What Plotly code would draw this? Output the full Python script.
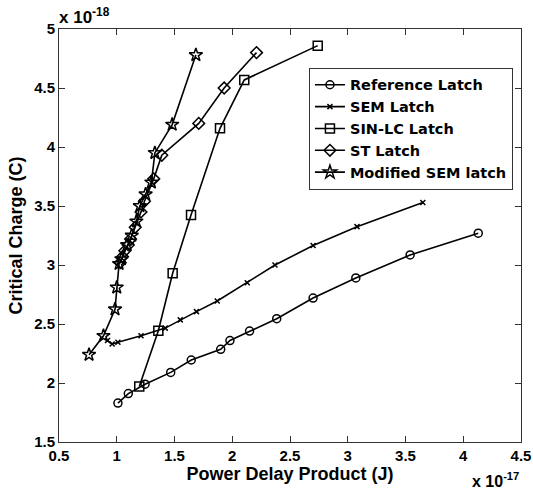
import plotly.graph_objects as go

# Values in units of 1e-17 J (x) and 1e-18 C (y)
ref_x = [1.01, 1.10, 1.245, 1.467, 1.645, 1.90, 1.98, 2.15, 2.385, 2.70, 3.07, 3.54, 4.13]
ref_y = [1.83, 1.91, 1.99, 2.09, 2.195, 2.285, 2.36, 2.44, 2.545, 2.72, 2.89, 3.085, 3.27]

sem_x = [0.92, 0.96, 1.01, 1.21, 1.42, 1.55, 1.69, 1.87, 2.13, 2.37, 2.70, 3.08, 3.65]
sem_y = [2.36, 2.33, 2.345, 2.40, 2.465, 2.535, 2.605, 2.695, 2.85, 3.00, 3.165, 3.325, 3.53]

sin_x = [1.195, 1.36, 1.484, 1.643, 1.894, 2.104, 2.74]
sin_y = [1.97, 2.443, 2.93, 3.424, 4.158, 4.568, 4.859]

st_x = [1.03, 1.05, 1.07, 1.10, 1.12, 1.16, 1.21, 1.24, 1.32, 1.39, 1.71, 1.93, 2.21]
st_y = [3.02, 3.07, 3.12, 3.17, 3.22, 3.32, 3.45, 3.54, 3.73, 3.93, 4.20, 4.50, 4.80]

msem_x = [0.76, 0.885, 0.985, 1.0, 1.02, 1.04, 1.09, 1.13, 1.17, 1.20, 1.25, 1.30, 1.33, 1.48, 1.685]
msem_y = [2.24, 2.40, 2.625, 2.81, 3.01, 3.05, 3.17, 3.25, 3.37, 3.50, 3.60, 3.70, 3.95, 4.19, 4.78]

series = [
    ("Reference Latch", ref_x, ref_y, "circle-open", 8),
    ("SEM Latch", sem_x, sem_y, "x-thin-open", 5),
    ("SIN-LC Latch", sin_x, sin_y, "square-open", 9),
    ("ST Latch", st_x, st_y, "diamond-open", 9),
    ("Modified SEM latch", msem_x, msem_y, "star-open", 10),
]

FONT = "Liberation Sans, Arial, sans-serif"
LEGFONT = "DejaVu Sans, Liberation Sans, sans-serif"

fig = go.Figure()
for name, xs, ys, sym, sz in series:
    fig.add_trace(go.Scatter(
        x=xs, y=ys, name=name, mode="lines+markers",
        line=dict(color="black", width=1.6),
        marker=dict(symbol=sym, size=sz, color="black",
                    line=dict(color="black", width=1.5)),
    ))

axis_common = dict(
    showline=True, linecolor="#333", linewidth=1, mirror="ticks",
    ticks="inside", ticklen=6, tickcolor="#333", showgrid=False, zeroline=False,
    automargin=False,
    tickfont=dict(family=FONT, size=15, color="black", weight="bold"),
)

fig.update_layout(
    width=533, height=492,
    margin=dict(l=59, r=12, t=29, b=50),
    plot_bgcolor="white", paper_bgcolor="white",
    font=dict(family=FONT, color="black"),
    xaxis=dict(range=[0.5, 4.5], dtick=0.5, tick0=0.5,
               title=dict(text="Power Delay Product (J)", standoff=1,
                          font=dict(family=FONT, size=18, color="black", weight="bold")),
               **axis_common),
    yaxis=dict(range=[1.5, 5], dtick=0.5, tick0=1.5,
               title=dict(text="Critical Charge (C)", standoff=6,
                          font=dict(family=FONT, size=18, color="black", weight="bold")),
               **axis_common),
    legend=dict(x=0.541, y=0.906, xanchor="left", yanchor="top",
                bgcolor="white", bordercolor="#333", borderwidth=1,
                font=dict(family=LEGFONT, size=14.5, color="black", weight="bold"),
                tracegroupgap=0, itemwidth=30),
    showlegend=True,
)

fig.add_annotation(xref="paper", yref="paper", x=0.0, y=1.0, xanchor="left", yanchor="bottom",
                   text="x 10<sup>-18</sup>", showarrow=False, yshift=0, xshift=-2,
                   font=dict(family=FONT, size=17, color="black", weight="bold"))
fig.add_annotation(xref="paper", yref="paper", x=1.0, y=0.0, xanchor="right", yanchor="top",
                   text="x 10<sup>-17</sup>", showarrow=False, yshift=-26, xshift=0,
                   font=dict(family=FONT, size=16, color="black", weight="bold"))

fig.write_html("out.html",
               config={"displayModeBar": False},
               post_script="document.body.style.margin='0';document.body.style.overflow='hidden';")
